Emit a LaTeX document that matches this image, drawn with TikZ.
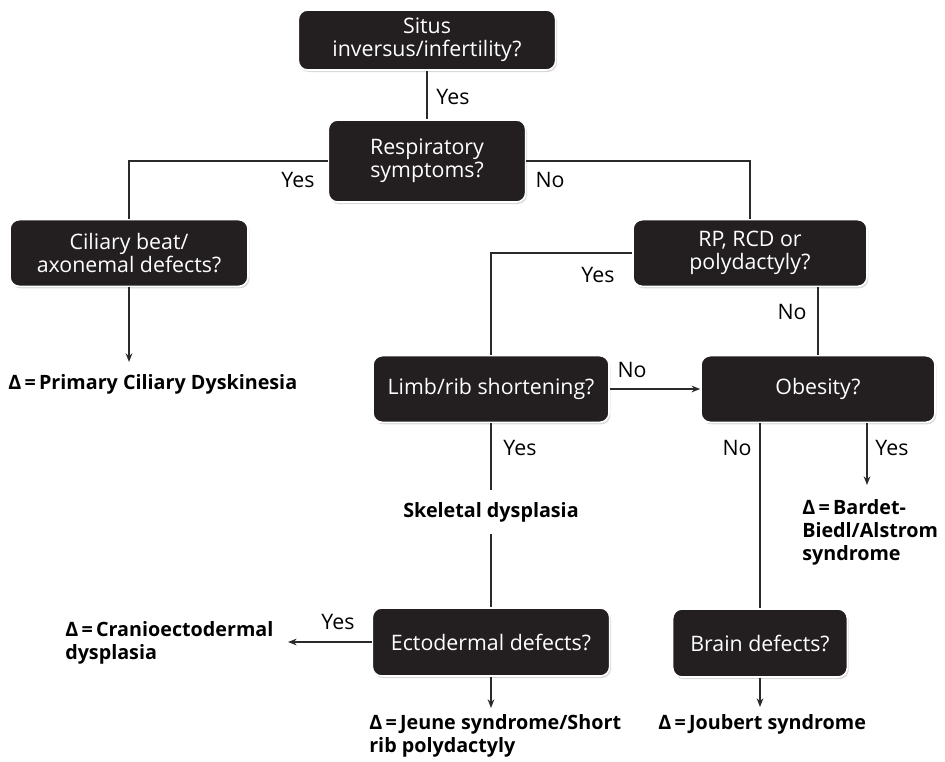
\documentclass[tikz,border=0pt]{standalone}
\usepackage{fontspec}
\setmainfont{Open Sans}
\usepackage[x11names]{xcolor}
\usetikzlibrary{arrows.meta, shadows}
\definecolor{boxblack}{HTML}{231F20}
\definecolor{linegray}{HTML}{2A2A2A}

\begin{document}
\begin{tikzpicture}[
    x = 0.75pt, y = -0.75pt,
    >= {Stealth[length = 6.5pt, width = 5pt]},
    question/.style = {fill = boxblack, draw = white, line width = 1.2pt, rounded corners = 7pt,
        text = white, align = center, inner sep = 0pt, font = \fontsize{16}{17.5}\selectfont,
        drop shadow = {shadow xshift = 1pt, shadow yshift = -1.5pt, opacity = 0.3}},
    answer/.style = {inner sep = 0pt, font = \fontsize{16}{17.5}\selectfont},
    result/.style = {inner sep = 0pt, align = left, font = \bfseries\fontsize{14.8}{17.25}\selectfont},
    link/.style = {draw = linegray, line width = 1.8pt}
]
    \useasboundingbox (0, 0) rectangle (945, 761);

    \node [question, minimum width = 193pt, minimum height = 45pt] (situs) at (427, 40) {Situs\\inversus/infertility?};
    \node [question, minimum width = 148pt, minimum height = 61.5pt] (resp) at (427, 161) {Respiratory\\symptoms?};
    \node [question, minimum width = 178.5pt, minimum height = 50pt] (cilia) at (129, 253) {Ciliary beat/\\axonemal defects?};
    \node [question, minimum width = 175.5pt, minimum height = 50pt] (rp) at (750, 253) {RP, RCD or\\polydactyly?};
    \node [question, minimum width = 177pt, minimum height = 50pt] (limb) at (491, 389) {Limb/rib shortening?};
    \node [question, minimum width = 175.5pt, minimum height = 50pt] (obesity) at (818, 389) {Obesity?};
    \node [question, minimum width = 178pt, minimum height = 51pt] (ecto) at (491, 642) {Ectodermal defects?};
    \node [question, minimum width = 131pt, minimum height = 51pt] (brain) at (760, 643) {Brain defects?};

    \node [result, anchor = west] (pcd) at (8, 384) {Δ\,=\,Primary Ciliary Dyskinesia};
    \node [result, inner ysep = 9pt] (skel) at (491, 512) {Skeletal dysplasia};
    \node [result, anchor = north west] (bbs) at (802, 499) {Δ\,=\,Bardet-\\Biedl/Alstrom\\syndrome};
    \node [result, anchor = west] (cranio) at (65, 643) {Δ\,=\,Cranioectodermal\\dysplasia};
    \node [result, anchor = north west] (jeune) at (369, 714) {Δ\,=\,Jeune syndrome/Short\\rib polydactyly};
    \node [result, anchor = west] (joubert) at (658, 724) {Δ\,=\,Joubert syndrome};

    \coordinate (pcdtip) at (129, 362);
    \coordinate (bbstip) at (867, 485);
    \coordinate (craniotip) at (288, 642);
    \coordinate (jeunetip) at (491, 708);
    \coordinate (joubtip) at (760, 707);

    \node [answer] (yessitus) at (453, 97) {Yes};
    \node [answer] (yesresp) at (298, 180) {Yes};
    \node [answer] (noresp) at (550, 180) {No};
    \node [answer] (yesrp) at (598, 275) {Yes};
    \node [answer] (norp) at (792, 312) {No};
    \node [answer] (nolimb) at (632, 370) {No};
    \node [answer] (yeslimb) at (520, 448) {Yes};
    \node [answer] (noobesity) at (737, 448) {No};
    \node [answer] (yesobesity) at (892, 448) {Yes};
    \node [answer] (yesecto) at (338, 622) {Yes};

    \draw [link] (situs) -- (resp);
    \draw [link] (resp.west) -| (cilia.north);
    \draw [link] (resp.east) -| (rp.north);
    \draw [link] (rp.west) -| (limb.north);
    \draw [link] (rp.south -| obesity.north) -- (obesity.north);
    \draw [link, ->] (limb.east) -- (obesity.west);
    \draw [link] (limb.south) -- (skel.north);
    \draw [link] (skel.south) -- (ecto.north);
    \draw [link] (obesity.south -| brain.north) -- (brain.north);
    \draw [link, ->] (obesity.south -| bbstip) -- (bbstip);
    \draw [link, ->] (cilia.south) -- (pcdtip);
    \draw [link, ->] (ecto.west) -- (craniotip);
    \draw [link, ->] (ecto.south) -- (jeunetip);
    \draw [link, ->] (brain.south) -- (joubtip);
\end{tikzpicture}
\end{document}
